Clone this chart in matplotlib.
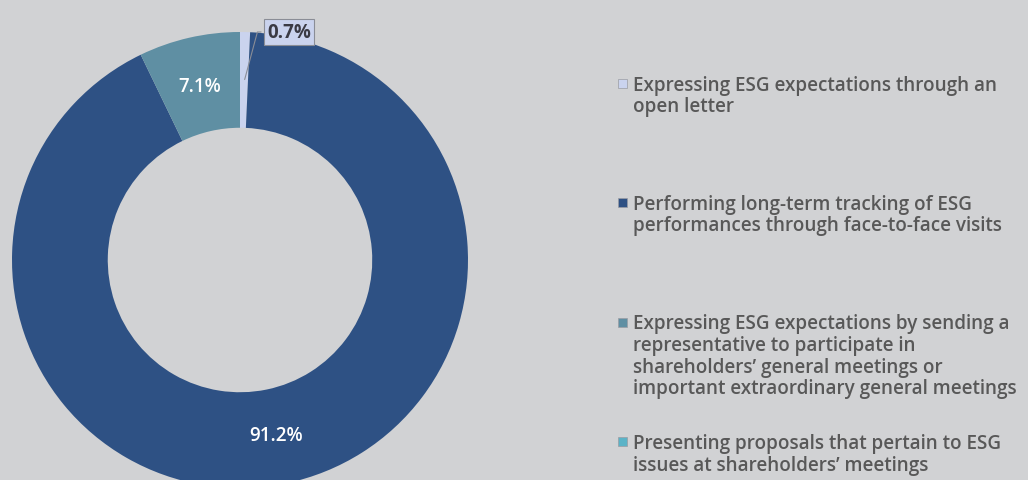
import matplotlib.pyplot as plt
from matplotlib.patches import Rectangle
import numpy as np

# data
labels = [
    "Expressing ESG expectations through an\nopen letter",
    "Performing long-term tracking of ESG\nperformances through face-to-face visits",
    "Expressing ESG expectations by sending a\nrepresentative to participate in\nshareholders\u2019 general meetings or\nimportant extraordinary general meetings",
    "Presenting proposals that pertain to ESG\nissues at shareholders\u2019 meetings",
]
values = [0.7, 91.2, 7.1, 0.0]
colors = ["#cad3ee", "#2e5184", "#5f8fa3", "#5bb3c7"]

bg = "#d1d2d4"
font = "Open Sans"

fig = plt.figure(figsize=(10.28, 4.81), dpi=100, facecolor=bg)

# donut axes: centre ~(240, 261) px, outer radius ~228 px
W, H = 1028, 481
cx, cy, R = 240, 481 - 261, 228
ax = fig.add_axes([(cx - R) / W, (cy - R) / H, 2 * R / W, 2 * R / H])
ax.set_facecolor(bg)
ax.axis("off")

wedges, _ = ax.pie(values, colors=colors, startangle=90, counterclock=False,
                   radius=1.0, wedgeprops=dict(width=0.42, edgecolor="none"))
for w in wedges:
    w.set_clip_on(False)
ax.set_xlim(-1, 1)
ax.set_ylim(-1, 1)
ax.set_aspect("equal")

for i, w in enumerate(wedges):
    if values[i] == 0:
        continue
    ang = np.deg2rad((w.theta1 + w.theta2) / 2)
    txt = f"{values[i]:.1f}%"
    if values[i] < 2:
        px, py = 0.78 * np.cos(ang), 0.78 * np.sin(ang)
        ax.annotate(txt, xy=(px, py), xytext=(0.215, 1.0),
                    ha="center", va="center", fontsize=13.5, fontweight="bold",
                    family=font, color="#3a3a44", annotation_clip=False,
                    bbox=dict(boxstyle="square,pad=0.15", fc=colors[i], ec="#8a8d96", lw=0.8),
                    arrowprops=dict(arrowstyle="-", color="#8a8d96", lw=0.8,
                                    connectionstyle="angle,angleA=0,angleB=75,rad=0"))
    else:
        r = 0.785
        ax.text(r * np.cos(ang), r * np.sin(ang), txt, ha="center", va="center",
                fontsize=13.5, fontweight="semibold", family=font, color="white")

# legend on the right
for i, lab in enumerate(labels):
    ytop = 84 + i * 119.5
    fig.patches.append(Rectangle((618 / W, 1 - (ytop + 4.5) / H), 9 / W, 9 / H,
                                 transform=fig.transFigure, facecolor=colors[i],
                                 edgecolor="#9a9ca3", lw=0.5))
    fig.text(633 / W, 1 - (ytop - 8.5) / H, lab, ha="left", va="top",
             fontsize=13.6, fontweight="semibold", family=font, color="#585858",
             linespacing=1.1)

fig.savefig("out.png", dpi=100, facecolor=bg)
